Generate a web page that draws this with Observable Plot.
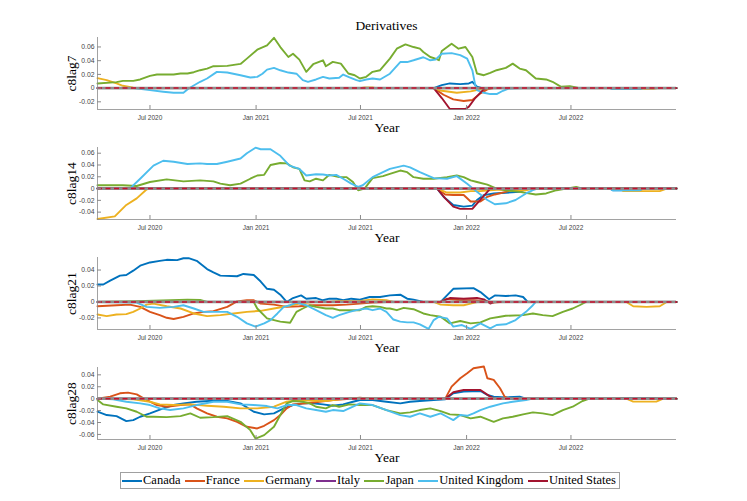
<!DOCTYPE html>
<html><head><meta charset="utf-8">
<script src="https://cdn.jsdelivr.net/npm/d3@7"></script>
<script src="https://cdn.jsdelivr.net/npm/@observablehq/plot@0.6"></script>
<style>
body{margin:0;background:#fff;}
#fig{position:relative;width:747px;height:501px;overflow:hidden;background:#fff;}
.panel{position:absolute;left:0;}
#title{position:absolute;left:97px;width:579px;top:19px;text-align:center;font-family:"Liberation Serif",serif;font-size:13.5px;line-height:13.5px;color:#000;}
#legend{position:absolute;left:120px;top:472px;width:500px;height:17px;box-sizing:border-box;border:1px solid #a0a0a0;display:flex;align-items:center;justify-content:space-between;padding:0 3px 0 1px;font-family:"Liberation Serif",serif;font-size:12.5px;color:#000;background:#fff;}
#legend .item{display:flex;align-items:center;white-space:nowrap;}
#legend .sw{display:inline-block;width:20px;height:2px;margin-right:1px;}
</style></head>
<body><div id="fig"></div>
<script>
const countries = ["Canada","France","Germany","Italy","Japan","United Kingdom","United States"];
const colors = ["#0072BD","#D95319","#EDB120","#7E2F8E","#77AC30","#4DBEEE","#A2142F"];
const xTickDates = ["2020-07-01","2021-01-01","2021-07-01","2022-01-01","2022-07-01"];
const xRange = ["2020-04-01","2022-12-31"];
const panelLabels = ["c8lag7","c8lag14","c8lag21","c8lag28"];
const yLimits = [[-0.0312,0.0738],[-0.0525,0.0697],[-0.0345,0.0557],[-0.0685,0.0523]];
const yTickValues = [[-0.02,0,0.02,0.04,0.06],[-0.04,-0.02,0,0.02,0.04,0.06],[-0.02,0,0.02,0.04],[-0.06,-0.04,-0.02,0,0.02,0.04]];

// ---- c8lag7 ----
const lag7_Canada = [["2020-04-01",0],["2021-11-05",0],["2021-11-19",0.0043],["2021-12-03",0.0068],["2021-12-21",0.0058],["2022-01-05",0.0068],["2022-01-11",0.0092],["2022-01-19",0.002],["2022-01-28",0],["2022-09-07",0],["2022-09-12",-0.0015],["2022-10-28",-0.0015],["2022-11-03",0],["2022-12-31",0]];
const lag7_France = [["2020-04-01",0],["2021-11-05",0],["2021-11-22",-0.0097],["2021-12-09",-0.0164],["2021-12-27",-0.0188],["2022-01-11",-0.0174],["2022-01-25",-0.0077],["2022-02-06",-0.0019],["2022-02-17",0],["2022-12-31",0]];
const lag7_Germany = [["2020-04-01",0.0145],["2020-04-17",0.0116],["2020-05-04",0.0068],["2020-05-15",0.0034],["2020-06-02",0.0005],["2020-06-14",0],["2021-06-30",0],["2021-07-08",0.001],["2021-07-22",0.001],["2021-07-28",0],["2021-11-05",0],["2021-11-19",-0.0039],["2021-12-15",-0.0068],["2022-01-08",-0.0048],["2022-01-25",-0.0019],["2022-02-11",0],["2022-10-28",0],["2022-11-05",-0.001],["2022-11-21",-0.001],["2022-11-28",0],["2022-12-31",0]];
const lag7_Italy = [["2020-04-01",0],["2022-12-31",0]];
const lag7_Japan = [["2020-04-01",0.0068],["2020-05-04",0.0087],["2020-05-15",0.0106],["2020-06-02",0.0106],["2020-06-14",0.0126],["2020-07-01",0.0179],["2020-07-13",0.0198],["2020-08-11",0.0198],["2020-08-23",0.0213],["2020-09-04",0.0213],["2020-09-15",0.0232],["2020-09-26",0.0261],["2020-10-08",0.0285],["2020-10-19",0.0319],["2020-11-12",0.0324],["2020-12-05",0.0353],["2020-12-16",0.043],["2021-01-03",0.056],["2021-01-20",0.0623],["2021-02-01",0.0734],["2021-02-12",0.0599],["2021-02-26",0.0454],["2021-03-06",0.0502],["2021-03-17",0.0415],["2021-03-29",0.0237],["2021-04-10",0.0348],["2021-04-27",0.0406],["2021-05-02",0.0319],["2021-05-14",0.0382],["2021-05-28",0.0357],["2021-06-10",0.0213],["2021-06-21",0.0188],["2021-06-30",0.014],["2021-07-11",0.0164],["2021-07-22",0.0237],["2021-08-04",0.0261],["2021-08-21",0.043],["2021-09-02",0.0575],["2021-09-17",0.0638],["2021-10-01",0.0599],["2021-10-12",0.0575],["2021-10-18",0.0527],["2021-10-30",0.0454],["2021-11-08",0.043],["2021-11-14",0.0406],["2021-11-19",0.0541],["2021-12-06",0.0647],["2021-12-18",0.0575],["2021-12-30",0.0599],["2022-01-11",0.0454],["2022-01-19",0.0213],["2022-01-31",0.0188],["2022-02-11",0.0222],["2022-02-22",0.0261],["2022-03-10",0.0295],["2022-03-22",0.0357],["2022-04-03",0.0285],["2022-04-14",0.0261],["2022-05-01",0.014],["2022-05-19",0.0126],["2022-05-30",0.0092],["2022-06-14",0.0019],["2022-06-29",0.0029],["2022-07-10",0.001],["2022-07-16",0],["2022-12-31",0]];
const lag7_UK = [["2020-04-01",0],["2020-06-02",0],["2020-07-01",-0.003],["2020-07-24",-0.0053],["2020-08-11",-0.0068],["2020-08-28",-0.0068],["2020-09-06",-0.0005],["2020-09-26",0.0092],["2020-10-08",0.014],["2020-10-25",0.0237],["2020-11-12",0.0227],["2020-12-05",0.0188],["2020-12-22",0.0155],["2021-01-03",0.0164],["2021-01-12",0.021],["2021-01-20",0.027],["2021-02-01",0.0295],["2021-02-12",0.026],["2021-02-26",0.0227],["2021-03-12",0.021],["2021-03-23",0.0116],["2021-04-01",0.0092],["2021-04-15",0.0126],["2021-04-27",0.0164],["2021-05-08",0.014],["2021-05-25",0.015],["2021-06-01",0.0198],["2021-06-12",0.0155],["2021-06-24",0.0116],["2021-06-30",0.0101],["2021-07-11",0.0126],["2021-07-22",0.014],["2021-08-04",0.0126],["2021-08-21",0.021],["2021-09-08",0.038],["2021-09-20",0.038],["2021-10-01",0.0406],["2021-10-18",0.045],["2021-10-30",0.0406],["2021-11-08",0.0415],["2021-11-19",0.05],["2021-12-06",0.051],["2021-12-21",0.048],["2022-01-02",0.043],["2022-01-11",0.026],["2022-01-16",0.0043],["2022-01-19",-0.003],["2022-01-31",-0.0068],["2022-02-11",-0.0087],["2022-02-22",-0.0087],["2022-03-05",-0.0039],["2022-03-16",-0.0005],["2022-04-09",0],["2022-09-07",0],["2022-09-12",-0.0015],["2022-10-28",-0.0015],["2022-11-03",0],["2022-12-31",0]];
const lag7_US = [["2020-04-01",0],["2021-11-05",0],["2021-11-19",-0.0145],["2021-12-03",-0.0305],["2021-12-30",-0.0305],["2022-01-05",-0.027],["2022-01-16",-0.0145],["2022-01-31",-0.0015],["2022-02-06",0],["2022-12-31",0]];

// ---- c8lag14 ----
const lag14_Canada = [["2020-04-01",0],["2021-11-11",0],["2021-11-22",-0.0139],["2021-12-09",-0.0278],["2021-12-27",-0.0306],["2022-01-11",-0.0289],["2022-01-19",-0.0194],["2022-01-31",-0.0111],["2022-02-17",-0.0083],["2022-03-10",-0.0072],["2022-04-03",-0.0056],["2022-04-14",-0.0011],["2022-04-20",0],["2022-09-07",0],["2022-09-12",-0.003],["2022-10-28",-0.003],["2022-11-03",0],["2022-12-31",0]];
const lag14_France = [["2020-04-01",0],["2021-11-11",0],["2021-11-25",-0.01],["2021-12-09",-0.011],["2021-12-27",-0.011],["2022-01-08",-0.022],["2022-01-25",-0.022],["2022-02-06",-0.014],["2022-02-19",-0.01],["2022-03-10",-0.0056],["2022-03-27",0],["2022-12-31",0]];
const lag14_Germany = [["2020-04-01",-0.0517],["2020-05-01",-0.0472],["2020-05-21",-0.0278],["2020-06-08",-0.0167],["2020-06-25",-0.0017],["2020-06-28",0],["2021-11-11",0],["2021-11-28",-0.0067],["2021-12-21",-0.0067],["2022-01-08",-0.0044],["2022-01-25",-0.0044],["2022-02-11",-0.0028],["2022-02-28",-0.0017],["2022-03-22",-0.0039],["2022-04-14",-0.0028],["2022-04-26",0],["2022-09-24",0],["2022-09-30",-0.0044],["2022-12-02",-0.0044],["2022-12-14",0],["2022-12-31",0]];
const lag14_Italy = [["2020-04-01",0],["2022-12-31",0]];
const lag14_Japan = [["2020-04-01",0.0056],["2020-05-15",0.0056],["2020-06-08",0.0044],["2020-07-01",0.0111],["2020-07-30",0.0156],["2020-08-28",0.0122],["2020-09-26",0.0139],["2020-10-19",0.0122],["2020-10-31",0.0083],["2020-11-17",0.0056],["2020-12-05",0.0083],["2020-12-22",0.0167],["2021-01-03",0.0222],["2021-01-15",0.0233],["2021-01-26",0.04],["2021-02-12",0.0433],["2021-02-23",0.0428],["2021-03-06",0.0361],["2021-03-17",0.0333],["2021-03-26",0.0139],["2021-04-04",0.0122],["2021-04-15",0.0167],["2021-04-27",0.0139],["2021-05-08",0.0233],["2021-05-25",0.0194],["2021-06-07",0.0194],["2021-06-18",0.0111],["2021-06-27",-0.0028],["2021-07-08",0],["2021-07-22",0.0178],["2021-08-09",0.0211],["2021-08-21",0.025],["2021-09-08",0.0306],["2021-09-20",0.0278],["2021-10-01",0.0194],["2021-10-18",0.0167],["2021-11-05",0.0167],["2021-11-28",0.0194],["2021-12-15",0.0222],["2021-12-27",0.0194],["2022-01-08",0.0139],["2022-01-19",0.0111],["2022-02-06",0.0067],["2022-02-22",0],["2022-03-10",-0.0028],["2022-04-03",-0.0056],["2022-05-01",-0.01],["2022-05-19",-0.0083],["2022-06-06",-0.0028],["2022-06-23",0],["2022-07-10",0.0028],["2022-07-21",0],["2022-12-31",0]];
const lag14_UK = [["2020-04-01",0],["2020-05-27",0],["2020-06-14",0.0167],["2020-07-07",0.0389],["2020-07-24",0.0472],["2020-08-11",0.0456],["2020-09-04",0.0417],["2020-09-26",0.0428],["2020-10-08",0.0417],["2020-10-25",0.0417],["2020-11-12",0.0456],["2020-12-05",0.0511],["2020-12-16",0.06],["2020-12-31",0.0694],["2021-01-09",0.0667],["2021-01-26",0.0667],["2021-02-12",0.0556],["2021-02-28",0.0389],["2021-03-17",0.0333],["2021-03-29",0.0222],["2021-04-15",0.0244],["2021-04-27",0.0239],["2021-05-08",0.0222],["2021-05-20",0.0233],["2021-06-01",0.0167],["2021-06-15",0.0083],["2021-06-27",0.0028],["2021-07-05",0.0056],["2021-07-22",0.0194],["2021-08-09",0.0278],["2021-08-21",0.0333],["2021-09-14",0.0389],["2021-09-25",0.0361],["2021-10-12",0.0278],["2021-11-05",0.0178],["2021-11-28",0.0167],["2021-12-15",0.0211],["2022-01-02",0.0083],["2022-01-19",-0.0056],["2022-02-06",-0.0194],["2022-02-19",-0.0267],["2022-03-10",-0.025],["2022-03-27",-0.0194],["2022-04-14",-0.0083],["2022-04-26",-0.0028],["2022-05-04",0],["2022-09-07",0],["2022-09-12",-0.003],["2022-10-28",-0.003],["2022-11-03",0],["2022-12-31",0]];
const lag14_US = [["2020-04-01",0],["2021-11-11",0],["2021-11-25",-0.0167],["2021-12-09",-0.0306],["2021-12-21",-0.0344],["2022-01-11",-0.0344],["2022-01-22",-0.0222],["2022-02-06",-0.0056],["2022-02-11",0],["2022-12-31",0]];

// ---- c8lag21 ----
const lag21_Canada = [["2020-04-01",0.0219],["2020-04-11",0.0219],["2020-04-23",0.0268],["2020-05-10",0.033],["2020-05-21",0.0338],["2020-06-02",0.0392],["2020-06-14",0.0454],["2020-07-01",0.0495],["2020-07-18",0.0515],["2020-07-30",0.0528],["2020-08-17",0.0524],["2020-08-28",0.0548],["2020-09-06",0.0548],["2020-09-20",0.0515],["2020-10-08",0.0412],["2020-10-19",0.0371],["2020-10-31",0.033],["2020-11-29",0.0322],["2020-12-10",0.0351],["2020-12-28",0.0338],["2021-01-09",0.0256],["2021-01-20",0.0165],["2021-02-01",0.0153],["2021-02-12",0.0091],["2021-02-23",0],["2021-03-06",0.0049],["2021-03-20",0.0082],["2021-03-29",0.0041],["2021-04-15",0.0049],["2021-04-27",0.0021],["2021-05-08",0.0041],["2021-05-20",0.0041],["2021-06-01",0.0021],["2021-06-15",0.0041],["2021-06-30",0.0029],["2021-07-17",0.0062],["2021-08-04",0.0062],["2021-08-21",0.0082],["2021-09-08",0.0091],["2021-09-20",0.0041],["2021-10-01",0.0029],["2021-10-18",0],["2021-11-17",0],["2021-12-09",0.0165],["2022-01-13",0.0173],["2022-01-25",0.0124],["2022-02-09",0.0033],["2022-02-19",0.0082],["2022-03-10",0.0074],["2022-03-27",0.0082],["2022-04-09",0.0062],["2022-04-17",0],["2022-12-31",0]];
const lag21_France = [["2020-04-01",-0.0054],["2020-05-04",-0.0041],["2020-05-27",-0.0033],["2020-06-14",-0.0062],["2020-07-01",-0.0124],["2020-07-18",-0.0165],["2020-07-30",-0.0198],["2020-08-11",-0.0214],["2020-08-28",-0.0186],["2020-09-15",-0.0144],["2020-10-02",-0.0124],["2020-10-19",-0.0115],["2020-11-12",-0.0062],["2020-11-29",0.0008],["2020-12-16",0.0021],["2020-12-28",0.0021],["2021-01-09",-0.0021],["2021-02-01",-0.0033],["2021-02-23",-0.0062],["2021-03-17",-0.0054],["2021-04-10",-0.0041],["2021-05-14",-0.0041],["2021-06-07",-0.0033],["2021-06-30",-0.0021],["2021-07-22",-0.0008],["2021-08-15",0],["2021-11-17",0],["2021-11-28",0.0041],["2021-12-21",0.0021],["2022-01-13",0.0021],["2022-02-06",0.0008],["2022-02-17",-0.0008],["2022-02-28",0],["2022-12-31",0]];
const lag21_Germany = [["2020-04-01",-0.0157],["2020-04-17",-0.0177],["2020-05-04",-0.0157],["2020-05-21",-0.0153],["2020-06-02",-0.0124],["2020-06-14",-0.0082],["2020-06-25",-0.0033],["2020-07-07",-0.0021],["2020-07-30",-0.0054],["2020-08-23",-0.0082],["2020-09-15",-0.0144],["2020-10-08",-0.0177],["2020-10-31",-0.0165],["2020-11-23",-0.0144],["2020-12-16",-0.0124],["2021-01-09",-0.0111],["2021-02-01",-0.0082],["2021-02-23",-0.0054],["2021-03-17",-0.0021],["2021-04-10",0],["2021-05-08",0],["2021-05-25",0.0012],["2021-06-24",0.0008],["2021-07-22",0.0033],["2021-08-15",0.0021],["2021-08-27",0],["2021-11-05",0],["2021-11-17",-0.0033],["2021-12-09",-0.0041],["2021-12-27",-0.0041],["2022-01-08",-0.002],["2022-01-19",0],["2022-10-05",0],["2022-10-17",-0.0054],["2022-11-09",-0.0062],["2022-12-02",-0.0054],["2022-12-14",0],["2022-12-31",0]];
const lag21_Italy = [["2020-04-01",0],["2022-12-31",0]];
const lag21_Japan = [["2020-04-01",0],["2020-06-08",0.0008],["2020-09-04",0.0029],["2020-09-26",0.0025],["2020-10-08",0],["2020-12-28",0],["2021-01-03",-0.0082],["2021-01-20",-0.0206],["2021-02-01",-0.0227],["2021-02-12",-0.0247],["2021-03-01",-0.026],["2021-03-12",-0.0124],["2021-03-23",-0.0082],["2021-04-04",-0.0041],["2021-04-15",-0.0062],["2021-05-02",-0.0082],["2021-05-14",-0.0082],["2021-05-25",-0.0103],["2021-06-12",-0.0103],["2021-06-30",-0.0103],["2021-07-11",-0.0062],["2021-07-22",-0.0054],["2021-08-04",-0.0062],["2021-08-15",-0.0082],["2021-08-21",-0.0082],["2021-09-02",-0.0103],["2021-09-14",-0.0074],["2021-10-01",-0.0091],["2021-10-18",-0.0144],["2021-10-30",-0.0165],["2021-11-17",-0.0186],["2021-12-03",-0.0268],["2021-12-21",-0.0239],["2022-01-08",-0.0268],["2022-01-25",-0.0256],["2022-02-11",-0.0206],["2022-02-28",-0.0186],["2022-03-10",-0.0173],["2022-04-09",-0.0165],["2022-04-26",-0.0144],["2022-05-13",-0.0165],["2022-05-30",-0.0177],["2022-06-17",-0.0124],["2022-07-04",-0.0082],["2022-07-16",-0.0041],["2022-07-27",0],["2022-12-31",0]];
const lag21_UK = [["2020-04-01",0],["2020-06-08",-0.0008],["2020-06-25",-0.0062],["2020-07-18",-0.0074],["2020-08-11",-0.0062],["2020-08-28",-0.0041],["2020-09-15",-0.0082],["2020-10-02",-0.0124],["2020-10-25",-0.0124],["2020-11-12",-0.0124],["2020-11-29",-0.0186],["2020-12-16",-0.0268],["2020-12-31",-0.0309],["2021-01-15",-0.0268],["2021-01-26",-0.0227],["2021-02-07",-0.0144],["2021-02-18",-0.0062],["2021-03-01",-0.0041],["2021-03-12",-0.0008],["2021-03-29",-0.0041],["2021-04-15",-0.0103],["2021-05-02",-0.0165],["2021-05-14",-0.0198],["2021-05-25",-0.0165],["2021-06-12",-0.0124],["2021-06-24",-0.0103],["2021-07-11",-0.0082],["2021-07-22",-0.0103],["2021-08-04",-0.0082],["2021-08-15",-0.0124],["2021-08-27",-0.022],["2021-09-08",-0.0247],["2021-09-20",-0.0256],["2021-10-01",-0.0256],["2021-10-12",-0.028],["2021-10-27",-0.0338],["2021-11-05",-0.0227],["2021-11-14",-0.0186],["2021-11-28",-0.0206],["2021-12-09",-0.0309],["2021-12-24",-0.0289],["2022-01-08",-0.0338],["2022-01-25",-0.0268],["2022-02-11",-0.033],["2022-02-22",-0.0289],["2022-03-10",-0.028],["2022-03-27",-0.0227],["2022-04-14",-0.0124],["2022-04-26",-0.0041],["2022-05-01",0],["2022-12-31",0]];
const lag21_US = [["2020-04-01",0],["2021-11-17",0],["2021-12-03",0.0049],["2021-12-27",0.0041],["2022-01-19",0.0049],["2022-01-31",0.0033],["2022-02-11",-0.002],["2022-02-19",0],["2022-12-31",0]];

// ---- c8lag28 ----
const lag28_Canada = [["2020-04-01",-0.0219],["2020-04-17",-0.0275],["2020-05-04",-0.0292],["2020-05-21",-0.0376],["2020-06-02",-0.036],["2020-06-14",-0.0303],["2020-07-01",-0.0247],["2020-07-24",-0.0163],["2020-08-11",-0.0107],["2020-08-28",-0.0079],["2020-09-20",-0.0051],["2020-10-19",-0.0034],["2020-11-12",-0.0039],["2020-12-05",-0.0079],["2020-12-28",-0.0219],["2021-01-15",-0.0264],["2021-02-01",-0.0247],["2021-02-18",-0.0163],["2021-03-06",-0.0107],["2021-03-23",-0.0079],["2021-04-10",-0.0079],["2021-04-27",-0.0096],["2021-05-14",-0.0118],["2021-06-01",-0.0096],["2021-06-18",-0.0051],["2021-06-30",-0.0022],["2021-07-22",-0.0022],["2021-08-15",-0.0051],["2021-09-08",-0.0079],["2021-09-25",-0.0051],["2021-10-12",-0.0039],["2021-11-05",-0.0022],["2021-11-25",-0.0011],["2021-12-09",0.009],["2021-12-27",0.0118],["2022-01-25",0.0129],["2022-02-06",0.0062],["2022-02-17",0.0034],["2022-03-10",0.0022],["2022-04-03",0.0034],["2022-04-14",0],["2022-09-20",0],["2022-09-26",0.0011],["2022-11-21",0.0011],["2022-11-28",0],["2022-12-31",0]];
const lag28_France = [["2020-04-01",0],["2020-04-23",0.0034],["2020-05-10",0.009],["2020-05-24",0.0101],["2020-06-08",0.0073],["2020-06-20",0.0006],["2020-07-01",-0.0051],["2020-07-13",-0.0107],["2020-07-30",-0.0135],["2020-08-23",-0.0107],["2020-09-09",-0.0096],["2020-09-20",-0.0163],["2020-10-08",-0.0247],["2020-10-25",-0.0303],["2020-11-12",-0.0331],["2020-11-29",-0.0388],["2020-12-16",-0.0472],["2021-01-03",-0.05],["2021-01-15",-0.0455],["2021-02-01",-0.036],["2021-02-12",-0.0275],["2021-02-23",-0.0163],["2021-03-06",-0.0096],["2021-03-29",-0.0079],["2021-04-21",-0.0051],["2021-05-14",-0.0022],["2021-06-07",-0.0006],["2021-06-30",0.0017],["2021-07-22",-0.0006],["2021-08-15",0],["2021-11-25",0],["2021-12-06",0.0202],["2021-12-21",0.0343],["2022-01-02",0.0427],["2022-01-13",0.0511],["2022-01-31",0.0539],["2022-02-06",0.0343],["2022-02-17",0.0315],["2022-02-28",0.0174],["2022-03-08",0.0034],["2022-03-16",0],["2022-12-31",0]];
const lag28_Germany = [["2020-04-01",0],["2020-06-02",-0.0011],["2020-07-01",-0.0051],["2020-07-18",-0.0096],["2020-08-11",-0.0107],["2020-09-09",-0.0096],["2020-10-08",-0.0118],["2020-11-06",-0.0135],["2020-12-05",-0.0163],["2021-01-03",-0.0163],["2021-02-01",-0.0135],["2021-02-23",-0.0051],["2021-03-17",-0.0022],["2021-04-10",-0.0034],["2021-05-02",-0.0039],["2021-05-25",-0.0011],["2021-06-18",0.0006],["2021-07-11",0.0006],["2021-08-15",0],["2022-10-05",0],["2022-10-17",-0.005],["2022-11-26",-0.005],["2022-12-08",0],["2022-12-31",0]];
const lag28_Italy = [["2020-04-01",0],["2022-12-31",0]];
const lag28_Japan = [["2020-04-01",-0.0022],["2020-04-11",-0.0096],["2020-05-04",-0.0135],["2020-05-21",-0.0163],["2020-06-08",-0.0219],["2020-06-25",-0.0303],["2020-07-07",-0.0303],["2020-07-30",-0.0309],["2020-08-23",-0.0292],["2020-09-09",-0.0247],["2020-09-26",-0.032],["2020-10-19",-0.0309],["2020-11-12",-0.0292],["2020-12-05",-0.0388],["2020-12-22",-0.0528],["2020-12-31",-0.0669],["2021-01-15",-0.0612],["2021-02-01",-0.0472],["2021-02-23",-0.0079],["2021-03-06",-0.0039],["2021-03-23",-0.0051],["2021-04-04",-0.0079],["2021-04-15",-0.0135],["2021-05-02",-0.0163],["2021-05-14",-0.0107],["2021-05-25",-0.0135],["2021-06-12",-0.0096],["2021-06-30",-0.0107],["2021-07-22",-0.0107],["2021-08-15",-0.0191],["2021-09-08",-0.0247],["2021-09-25",-0.023],["2021-10-12",-0.0191],["2021-10-30",-0.0163],["2021-11-17",-0.0208],["2021-12-03",-0.0264],["2021-12-21",-0.0275],["2022-01-08",-0.0331],["2022-01-25",-0.0303],["2022-02-17",-0.0388],["2022-03-05",-0.0331],["2022-03-22",-0.0303],["2022-04-09",-0.0264],["2022-04-26",-0.023],["2022-05-13",-0.0247],["2022-05-30",-0.0275],["2022-06-17",-0.0191],["2022-07-04",-0.0135],["2022-07-21",-0.0039],["2022-08-02",0],["2022-12-31",0]];
const lag28_UK = [["2020-04-01",0],["2020-04-28",-0.0011],["2020-05-21",-0.0051],["2020-06-14",-0.0079],["2020-07-01",-0.0107],["2020-07-18",-0.0163],["2020-08-05",-0.0191],["2020-08-28",-0.0163],["2020-09-20",-0.0107],["2020-10-19",-0.0051],["2020-11-12",-0.0051],["2020-12-05",-0.0096],["2020-12-28",-0.0107],["2021-01-20",-0.0124],["2021-02-07",-0.0163],["2021-02-23",-0.0107],["2021-03-12",-0.0107],["2021-03-29",-0.0163],["2021-04-15",-0.0191],["2021-05-02",-0.0219],["2021-05-14",-0.0191],["2021-06-01",-0.0208],["2021-06-18",-0.0135],["2021-06-30",-0.0079],["2021-07-22",-0.0107],["2021-08-15",-0.0191],["2021-09-08",-0.0275],["2021-09-25",-0.0303],["2021-10-12",-0.0247],["2021-10-30",-0.0303],["2021-11-17",-0.0247],["2021-11-28",-0.0303],["2021-12-09",-0.036],["2021-12-21",-0.0275],["2022-01-02",-0.0287],["2022-01-13",-0.0247],["2022-01-25",-0.0191],["2022-02-11",-0.0135],["2022-03-05",-0.0079],["2022-03-22",-0.0051],["2022-04-14",-0.0022],["2022-04-26",0],["2022-12-31",0]];
const lag28_US = [["2020-04-01",0],["2021-11-25",0],["2021-12-09",0.0107],["2021-12-27",0.0146],["2022-01-25",0.0146],["2022-02-11",0.0034],["2022-02-19",0],["2022-12-31",0]];

const panelSeries = [
  [lag7_Canada, lag7_France, lag7_Germany, lag7_Italy, lag7_Japan, lag7_UK, lag7_US],
  [lag14_Canada, lag14_France, lag14_Germany, lag14_Italy, lag14_Japan, lag14_UK, lag14_US],
  [lag21_Canada, lag21_France, lag21_Germany, lag21_Italy, lag21_Japan, lag21_UK, lag21_US],
  [lag28_Canada, lag28_France, lag28_Germany, lag28_Italy, lag28_Japan, lag28_UK, lag28_US]
];

const fig = document.getElementById("fig");
const parse = d3.utcParse("%Y-%m-%d");
const xDomain = xRange.map(parse);
const xTicks = xTickDates.map(parse);
const serif = "Liberation Serif";
const sans = "Liberation Sans";

panelSeries.forEach((series, i) => {
  const rows = [];
  series.forEach((s, k) => s.forEach(([d, v]) => rows.push({country: countries[k], date: parse(d), value: v})));
  const yDomain = yLimits[i];
  const chart = Plot.plot({
    width: 747, height: 110,
    marginTop: 10, marginBottom: 28, marginLeft: 97, marginRight: 71,
    style: {background: "transparent", overflow: "visible"},
    x: {type: "utc", domain: xDomain},
    y: {domain: yDomain},
    color: {domain: countries, range: colors},
    marks: [
      Plot.line(rows, {x: "date", y: "value", z: "country", stroke: "country", strokeWidth: 1.9, strokeLinejoin: "round"}),
      Plot.ruleY([0], {stroke: "#8e8e8e", strokeWidth: 2.8}),
      Plot.ruleY([0], {stroke: "#c8102e", strokeWidth: 1.5, strokeDasharray: "5,3.5"}),
      Plot.ruleX([xDomain[0]], {stroke: "#8a8a8a", strokeWidth: 0.8}),
      Plot.ruleY([yDomain[0]], {stroke: "#8a8a8a", strokeWidth: 0.8}),
      Plot.axisX(xTicks, {tickSize: -4, tickPadding: 10, stroke: "#8a8a8a", tickFormat: d3.utcFormat("%b %Y"), fontSize: 6.5, fontFamily: sans, fill: "#444", label: null}),
      Plot.axisY(yTickValues[i], {tickSize: -4, tickPadding: 7, stroke: "#8a8a8a", tickFormat: d => d === 0 ? "0" : String(d), fontSize: 6.8, fontFamily: sans, fill: "#444", label: null}),
      Plot.text([panelLabels[i]], {frameAnchor: "left", dx: -26, rotate: -90, textAnchor: "middle", lineAnchor: "middle", fontSize: 13.5, fontFamily: serif, fill: "#000"}),
      Plot.text(["Year"], {frameAnchor: "bottom", dy: 18, textAnchor: "middle", lineAnchor: "middle", fontSize: 13.5, fontFamily: serif, fill: "#000"})
    ]
  });
  chart.classList.add("panel");
  chart.style.top = (27 + 110 * i) + "px";
  fig.appendChild(chart);
});

const title = document.createElement("div");
title.id = "title";
title.textContent = "Derivatives";
fig.appendChild(title);

const legend = document.createElement("div");
legend.id = "legend";
countries.forEach((c, k) => {
  const item = document.createElement("span");
  item.className = "item";
  const sw = document.createElement("span");
  sw.className = "sw";
  sw.style.background = colors[k];
  item.appendChild(sw);
  item.appendChild(document.createTextNode(c));
  legend.appendChild(item);
});
fig.appendChild(legend);
</script>
</body></html>
